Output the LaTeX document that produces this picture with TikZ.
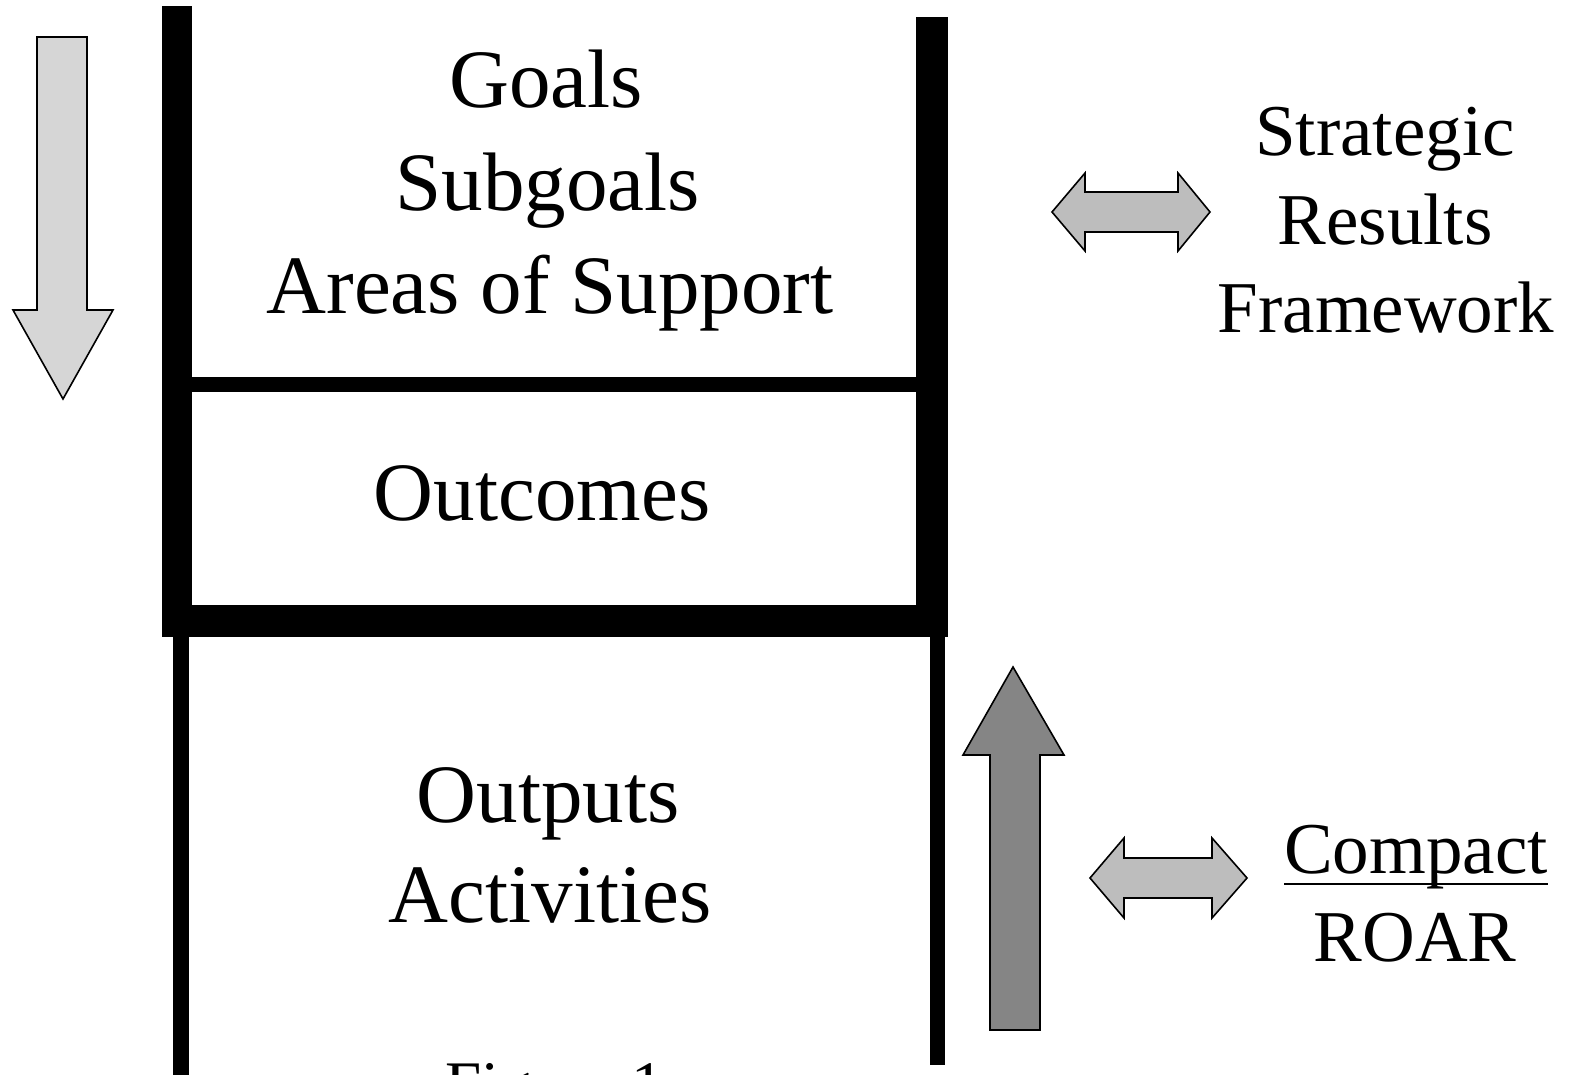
\documentclass[tikz,border=0pt]{standalone}
\usepackage{fontspec}
\setmainfont{Liberation Serif}
\usetikzlibrary{calc}
\definecolor{palegray}{HTML}{D6D6D6}
\definecolor{midgray}{HTML}{BDBDBD}
\definecolor{darkgray}{HTML}{858585}
\tikzset{
  bar/.style={fill=black, draw=none},
  bigtext/.style={font=\fontsize{83}{100}\selectfont, inner sep=0pt, anchor=base},
  sidetext/.style={font=\fontsize{73}{88}\selectfont, inner sep=0pt, anchor=base},
  blockarrow/.style={draw=black, line width=1.6pt, line join=miter},
}
\begin{document}
\begin{tikzpicture}[x=1pt, y=-1pt]
\useasboundingbox (0,0) rectangle (1574,1075);

% ladder frame
\fill[bar] (162,6) rectangle (192,637);
\fill[bar] (916,17) rectangle (948,637);
\fill[bar] (192,377) rectangle (916,392);
\fill[bar] (162,605) rectangle (948,637);
\fill[bar] (173,637) rectangle (189,1080);
\fill[bar] (930,637) rectangle (945,1065);

% top-down arrow
\draw[blockarrow, fill=palegray]
  (37,37) -- (87,37) -- (87,310) -- (113,310) -- (63,399) -- (13,310) -- (37,310) -- cycle;

% bottom-up arrow
\draw[blockarrow, fill=darkgray]
  (990,1030) -- (990,755) -- (963,755) -- (1013,667) -- (1064,755) -- (1040,755) -- (1040,1030) -- cycle;

% two-way arrows
\draw[blockarrow, fill=midgray]
  (1052,212) -- (1085,173) -- (1085,192) -- (1178,192) -- (1178,173) -- (1210,212)
  -- (1178,251) -- (1178,232) -- (1085,232) -- (1085,251) -- cycle;
\draw[blockarrow, fill=midgray]
  (1090,878) -- (1124,838) -- (1124,858) -- (1212,858) -- (1212,838) -- (1247,878)
  -- (1212,918) -- (1212,898) -- (1124,898) -- (1124,918) -- cycle;

% level labels
\node[bigtext] (goals) at (546,108) {Goals};
\node[bigtext] (subgoals) at (548,211) {Subgoals};
\node[bigtext] (areas) at (550,313) {Areas of Support};
\node[bigtext] (outcomes) at (542,520) {Outcomes};
\node[bigtext] (outputs) at (548,822) {Outputs};
\node[bigtext] (activities) at (550,922) {Activities};
\node[font=\fontsize{65}{78}\selectfont, inner sep=0pt, anchor=base west] (figure) at (445,1106) {Figure 1};

% framework labels
\node[sidetext] (strategic) at (1385,156) {Strategic};
\node[sidetext] (results) at (1385,245) {Results};
\node[sidetext] (framework) at (1386,333) {Framework};
\node[sidetext] (compact) at (1416,873) {Compact};
\node[sidetext] (roar) at (1415,961) {ROAR};
\draw[line width=2.4pt] ($(compact.base west)+(0,11)$) -- ($(compact.base east)+(0,11)$);
\end{tikzpicture}
\end{document}
